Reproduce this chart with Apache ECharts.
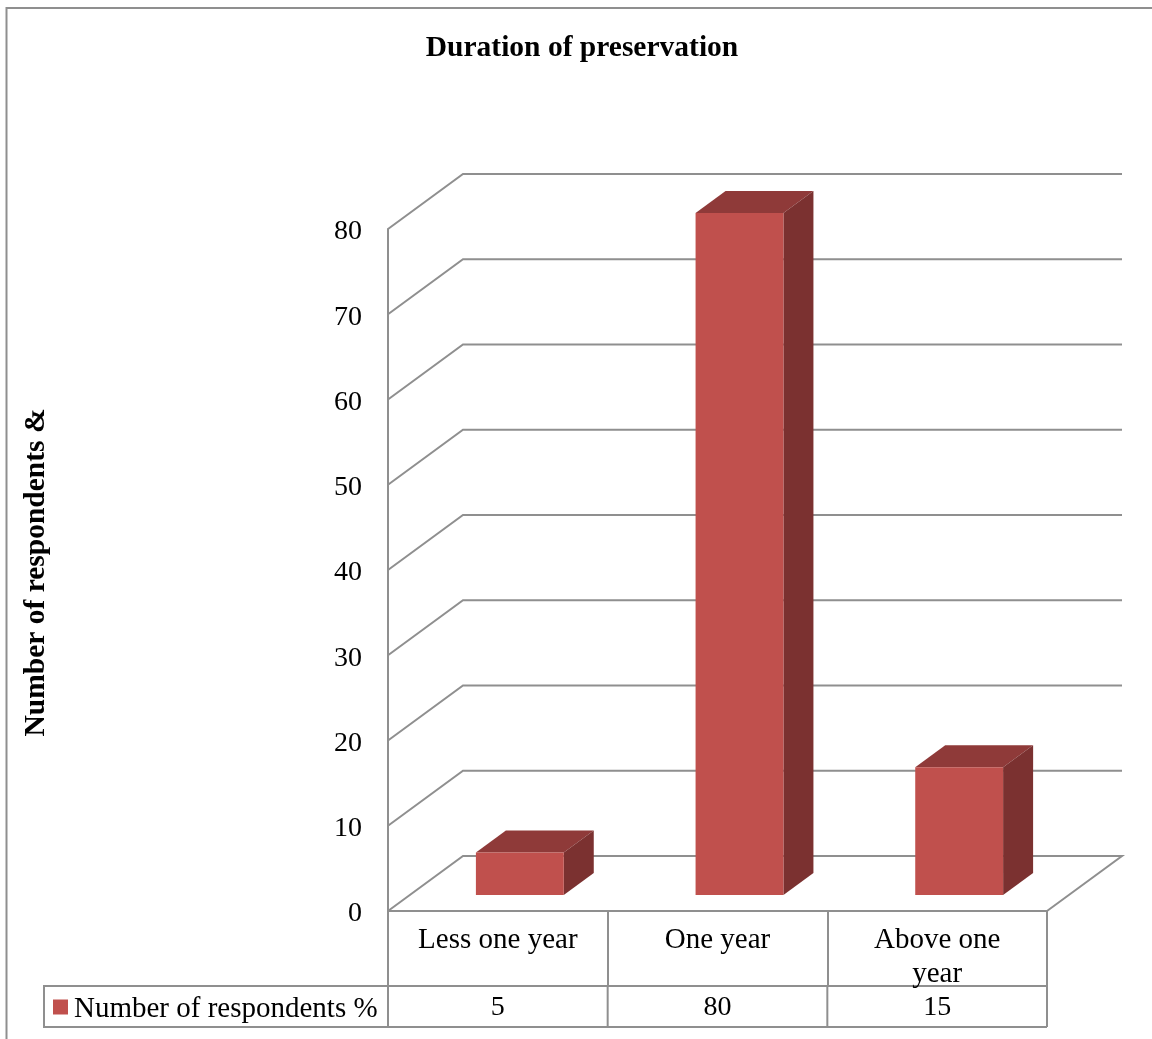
<!DOCTYPE html>
<html>
<head>
<meta charset="utf-8">
<style>html,body{margin:0;padding:0;background:#fff}#chart{width:1152px;height:1039px}</style>
<script src="https://cdn.jsdelivr.net/npm/echarts@6/dist/echarts.min.js"></script>
</head>
<body>
<div id="chart"></div>
<script>
const categories = ['Less one year', 'One year', 'Above one\nyear'];
const respondents = [5, 80, 15];
const tickValues = [0, 10, 20, 30, 40, 50, 60, 70, 80];
const seriesName = 'Number of respondents %';
const titleText = 'Duration of preservation';
const yAxisName = 'Number of respondents &';

const FONT = '"Liberation Serif", "Times New Roman", serif';
const LINE = '#8f8f8f';
const FRONT = '#C0504D', TOP = '#8F3A39', SIDE = '#7B3130';
const WALL = [75, -55];        // depth of the chart box
const BAR_SHIFT = [22, -16];   // front face position inside the box
const BAR_DEPTH = [30, -22];   // depth of each bar
const BAR_RATIO = 0.4;
const ROW_TOP = 986, ROW_BOTTOM = 1027, ROW_LEFT = 44;
const lineStyle = {stroke: LINE, lineWidth: 2, fill: null};

function renderWall(params, api) {
  const v = api.value(0);
  const p = api.coord([0, v]);
  const band = api.size([1, 0])[0];
  const x0 = p[0] - band / 2;
  const x1 = x0 + band * categories.length;
  const pts = [[x0, p[1]], [x0 + WALL[0], p[1] + WALL[1]], [x1 + WALL[0], p[1] + WALL[1]]];
  if (v === 0) pts.push([x1, p[1]]);
  return {type: 'polyline', shape: {points: pts}, style: lineStyle, silent: true};
}

function renderBar(params, api) {
  const i = api.value(0);
  const top = api.coord([i, api.value(1)]);
  const base = api.coord([i, 0]);
  const w = api.size([1, 0])[0] * BAR_RATIO;
  const l = top[0] - w / 2 + BAR_SHIFT[0], r = l + w;
  const t = top[1] + BAR_SHIFT[1], b = base[1] + BAR_SHIFT[1];
  const dx = BAR_DEPTH[0], dy = BAR_DEPTH[1];
  return {type: 'group', silent: true, children: [
    {type: 'polygon', shape: {points: [[l, t], [r, t], [r + dx, t + dy], [l + dx, t + dy]]}, style: {fill: TOP}},
    {type: 'polygon', shape: {points: [[r, t], [r + dx, t + dy], [r + dx, b + dy], [r, b]]}, style: {fill: SIDE}},
    {type: 'rect', shape: {x: l, y: t, width: w, height: b - t}, style: {fill: FRONT}}
  ]};
}

function renderRow(params, api) {
  const i = api.value(0);
  const p = api.coord([i, 0]);
  const band = api.size([1, 0])[0];
  const seg = x => ({type: 'line', shape: {x1: x, y1: ROW_TOP, x2: x, y2: ROW_BOTTOM}, style: lineStyle});
  const children = [
    seg(p[0] + band / 2),
    {type: 'text', style: {x: p[0], y: (ROW_TOP + ROW_BOTTOM) / 2 + 1, text: String(api.value(1)),
      font: '28px ' + FONT, fill: '#000', align: 'center', verticalAlign: 'middle'}}
  ];
  if (i === 0) children.push(seg(p[0] - band / 2));
  return {type: 'group', silent: true, children};
}

const chart = echarts.init(document.getElementById('chart'), null, {renderer: 'canvas'});
chart.setOption({
  animation: false,
  backgroundColor: '#fff',
  title: {
    text: titleText, left: 582, top: 33, textAlign: 'center', padding: 0,
    textStyle: {fontFamily: FONT, fontSize: 29.5, fontWeight: 'bold', color: '#000'}
  },
  legend: {
    data: [{name: seriesName, icon: 'rect'}],
    left: 53, top: 995, padding: 0, itemWidth: 15, itemHeight: 15, selectedMode: false,
    formatter: name => '{n|' + name + '}',
    textStyle: {fontFamily: FONT, fontSize: 29, color: '#000',
      rich: {n: {fontFamily: FONT, fontSize: 29, color: '#000', padding: [5, 0, 0, 1]}}}
  },
  grid: {left: 388, top: 229, width: 659, height: 682, containLabel: false},
  xAxis: {
    type: 'category', data: categories, boundaryGap: true,
    axisLine: {show: true, lineStyle: {color: LINE, width: 2}},
    axisTick: {show: true, length: 75, lineStyle: {color: LINE, width: 2}},
    axisLabel: {fontFamily: FONT, fontSize: 29, color: '#000', margin: 12, lineHeight: 34, interval: 0},
    splitLine: {show: false}
  },
  yAxis: {
    type: 'value', min: 0, max: 80, interval: 10,
    name: yAxisName, nameLocation: 'middle', nameGap: 337, nameRotate: 90,
    nameTextStyle: {fontFamily: FONT, fontSize: 29.5, fontWeight: 'bold', color: '#000', padding: [0, 5, 0, 0]},
    axisLine: {show: true, lineStyle: {color: LINE, width: 2}},
    axisTick: {show: false},
    axisLabel: {fontFamily: FONT, fontSize: 28, color: '#000', margin: 26,
      formatter: '{v|{value}}',
      rich: {v: {fontFamily: FONT, fontSize: 28, color: '#000', padding: [6, 0, 0, 0]}}},
    splitLine: {show: false}
  },
  graphic: [
    {type: 'polyline', silent: true, z: 0, shape: {points: [[6.5, 1039], [6.5, 8], [1152, 8]]}, style: lineStyle},
    {type: 'polyline', silent: true, z: 0,
      shape: {points: [[1047, ROW_TOP], [ROW_LEFT, ROW_TOP], [ROW_LEFT, ROW_BOTTOM], [1047, ROW_BOTTOM]]}, style: lineStyle}
  ],
  series: [
    {type: 'custom', name: 'walls', coordinateSystem: 'cartesian2d', renderItem: renderWall, z: 1,
      data: tickValues.map(v => [v]), encode: {y: 0}, silent: true},
    {type: 'custom', name: seriesName, coordinateSystem: 'cartesian2d', renderItem: renderBar, z: 2,
      itemStyle: {color: FRONT}, data: respondents.map((v, i) => [i, v]), encode: {x: 0, y: 1}, silent: true},
    {type: 'custom', name: 'table', coordinateSystem: 'cartesian2d', renderItem: renderRow, z: 3,
      data: respondents.map((v, i) => [i, v]), encode: {x: 0}, silent: true}
  ]
});
</script>
</body>
</html>
